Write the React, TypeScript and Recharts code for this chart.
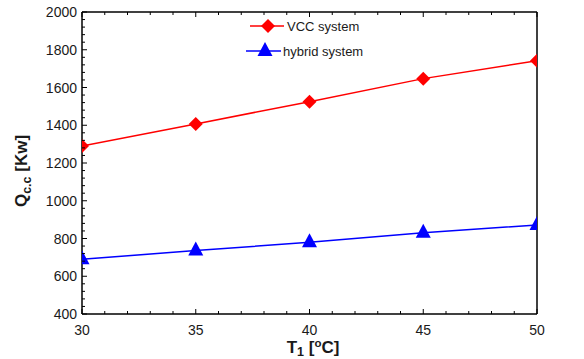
import React from 'react';
import { LineChart, Line, XAxis, YAxis, Legend } from 'recharts';

const temperatures = [30, 35, 40, 45, 50];
const vccSystem = [1290, 1407, 1525, 1647, 1742];
const hybridSystem = [690, 736, 780, 830, 872];

const xMajorTicks = [30, 35, 40, 45, 50];
const yMajorTicks = [400, 600, 800, 1000, 1200, 1400, 1600, 1800, 2000];

const xMinorStep = 1;
const yMinorStep = 40;

const FONT = '"Liberation Sans", Arial, sans-serif';
const TEXT = '#1a1a1a';

const buildTicks = (from: number, to: number, step: number) => {
  const out: number[] = [];
  for (let v = from; v <= to + 1e-9; v += step) out.push(Math.round(v * 1000) / 1000);
  return out;
};

const xTicks = buildTicks(30, 50, xMinorStep);
const yTicks = buildTicks(400, 2000, yMinorStep);

const data = temperatures.map((t, i) => ({
  t,
  vcc: vccSystem[i],
  hybrid: hybridSystem[i],
}));

type Side = 'bottom' | 'top' | 'left' | 'right';

// plot box edges, used to draw the inward tick marks
const PLOT = { left: 82, right: 537, top: 12, bottom: 314 };

const makeTick = (side: Side, majors: number[], showLabel: boolean) => (props: any) => {
  const { x, y, payload } = props;
  const v = payload.value;
  const major = majors.includes(v);
  const len = major ? 5 : 3;
  let line;
  if (side === 'bottom')
    line = <path d={`M${x},${PLOT.bottom}V${PLOT.bottom - len}`} stroke="#000" strokeWidth={1} fill="none" />;
  else if (side === 'top')
    line = <path d={`M${x},${PLOT.top}V${PLOT.top + len}`} stroke="#000" strokeWidth={1} fill="none" />;
  else if (side === 'left')
    line = <path d={`M${PLOT.left},${y}H${PLOT.left + len}`} stroke="#000" strokeWidth={1} fill="none" />;
  else line = <path d={`M${PLOT.right},${y}H${PLOT.right - len}`} stroke="#000" strokeWidth={1} fill="none" />;
  let label = null;
  if (showLabel && major) {
    if (side === 'bottom')
      label = (
        <text x={x} y={PLOT.bottom + 21} textAnchor="middle" fontSize={14} fill={TEXT} fontFamily={FONT}>
          {v}
        </text>
      );
    else if (side === 'left')
      label = (
        <text x={PLOT.left - 5} y={y + 5} textAnchor="end" fontSize={14} fill={TEXT} fontFamily={FONT}>
          {v}
        </text>
      );
  }
  return (
    <g>
      {line}
      {label}
    </g>
  );
};

const Diamond = (props: any) => {
  const { cx, cy, fill } = props;
  if (cx == null || cy == null) return null;
  const r = 7;
  return <polygon points={`${cx},${cy - r} ${cx + r},${cy} ${cx},${cy + r} ${cx - r},${cy}`} fill={fill} />;
};

const Triangle = (props: any) => {
  const { cx, cy, fill } = props;
  if (cx == null || cy == null) return null;
  return <polygon points={`${cx},${cy - 9} ${cx + 7.5},${cy + 5} ${cx - 7.5},${cy + 5}`} fill={fill} />;
};

const renderLegend = () => (
  <svg width={160} height={56} style={{ display: 'block' }}>
    <line x1={10} y1={16} x2={44} y2={16} stroke="#ff0000" strokeWidth={1.5} />
    <Diamond cx={28} cy={16} fill="#ff0000" />
    <text x={47} y={20.5} fontSize={13} fill={TEXT} fontFamily={FONT}>
      VCC system
    </text>
    <line x1={6} y1={41} x2={41} y2={41} stroke="#0000ff" strokeWidth={1.5} />
    <Triangle cx={25} cy={41} fill="#0000ff" />
    <text x={43} y={45.5} fontSize={13} fill={TEXT} fontFamily={FONT}>
      hybrid system
    </text>
  </svg>
);

const YTitle = () => (
  <text
    x={27}
    y={171}
    transform="rotate(-90, 27, 171)"
    textAnchor="middle"
    fontSize={17}
    fontWeight="bold"
    fill={TEXT}
    fontFamily={FONT}
  >
    Q
    <tspan dy={4} fontSize={12.5}>
      c.c
    </tspan>
    <tspan dy={-4}> [Kw]</tspan>
  </text>
);

const XTitle = () => (
  <text x={313} y={353} textAnchor="middle" fontSize={17} fontWeight="bold" fill={TEXT} fontFamily={FONT}>
    T
    <tspan dy={3} fontSize={12.5}>
      1
    </tspan>
    <tspan dy={-3}> [</tspan>
    <tspan dy={-6} fontSize={11.5}>
      o
    </tspan>
    <tspan dy={6}>C]</tspan>
  </text>
);

export default function App() {
  return (
    <div style={{ width: 584, height: 359, background: '#fff' }}>
      <style>{`body{margin:0}`}</style>
      <LineChart width={584} height={359} data={data} margin={{ top: 11, right: 46, left: 0, bottom: 0 }}>
        <XAxis
          dataKey="t"
          type="number"
          domain={[30, 50]}
          ticks={xTicks}
          interval={0}
          allowDataOverflow
          height={45}
          tickSize={0}
          tickMargin={0}
          axisLine={{ stroke: '#000', strokeWidth: 1.5 }}
          tickLine={false}
          tick={makeTick('bottom', xMajorTicks, true)}
          label={<XTitle />}
        />
        <XAxis
          xAxisId="top"
          orientation="top"
          dataKey="t"
          type="number"
          domain={[30, 50]}
          ticks={xTicks}
          interval={0}
          height={1}
          tickSize={0}
          tickMargin={0}
          axisLine={{ stroke: '#000', strokeWidth: 1.5 }}
          tickLine={false}
          tick={makeTick('top', xMajorTicks, false)}
        />
        <YAxis
          type="number"
          domain={[400, 2000]}
          ticks={yTicks}
          interval={0}
          width={82}
          tickSize={0}
          tickMargin={0}
          axisLine={{ stroke: '#000', strokeWidth: 1.5 }}
          tickLine={false}
          tick={makeTick('left', yMajorTicks, true)}
          label={<YTitle />}
        />
        <YAxis
          yAxisId="right"
          orientation="right"
          type="number"
          domain={[400, 2000]}
          ticks={yTicks}
          interval={0}
          width={1}
          tickSize={0}
          tickMargin={0}
          axisLine={{ stroke: '#000', strokeWidth: 1.5 }}
          tickLine={false}
          tick={makeTick('right', yMajorTicks, false)}
        />
        <Legend
          verticalAlign="middle"
          layout="horizontal"
          content={renderLegend}
          wrapperStyle={{ top: 10, left: 240, width: 160, height: 56 }}
        />
        <Line
          dataKey="vcc"
          name="VCC system"
          stroke="#ff0000"
          strokeWidth={1.5}
          fill="#ff0000"
          dot={<Diamond fill="#ff0000" />}
          activeDot={false}
          isAnimationActive={false}
        />
        <Line
          dataKey="hybrid"
          name="hybrid system"
          stroke="#0000ff"
          strokeWidth={1.5}
          fill="#0000ff"
          dot={<Triangle fill="#0000ff" />}
          activeDot={false}
          isAnimationActive={false}
        />
      </LineChart>
    </div>
  );
}
